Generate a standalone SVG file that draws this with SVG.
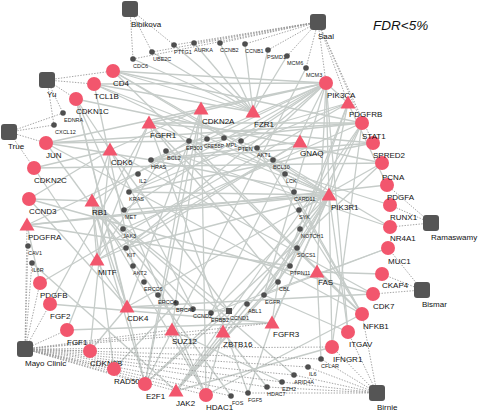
<svg xmlns="http://www.w3.org/2000/svg" xmlns:xlink="http://www.w3.org/1999/xlink" width="478" height="411" viewBox="0 0 478 411">
<style>
.e line{stroke:#c6ccc9;stroke-width:1.3;fill:none}
.d line{stroke:#9a9a9a;stroke-width:0.9;stroke-dasharray:1.4 1.4;fill:none}
.r{fill:#f2566d}
.g{fill:#4e4e4e}
.s{fill:#555555}
text{font-family:"Liberation Sans",Arial,sans-serif;fill:#111}
.lb{font-size:8px}
.ls{font-size:5.5px;fill:#222}
.t{font-size:13.5px;font-style:italic}
</style>
<defs>
<path id="tri" d="M0,-7.5 L7.5,5.5 L-7.5,5.5Z"/>
<rect id="sq" x="-8" y="-8" width="16" height="16" rx="3"/>
</defs>
<rect width="478" height="411" fill="#ffffff"/>
<g id="connectors">
<g class="e">
<line x1="113" y1="71" x2="285" y2="174"/><line x1="113" y1="71" x2="326" y2="83"/><line x1="113" y1="71" x2="329" y2="195"/><line x1="113" y1="71" x2="253" y2="112"/><line x1="113" y1="71" x2="362" y2="123"/><line x1="113" y1="71" x2="362" y2="314"/>
<line x1="94" y1="84" x2="257" y2="148"/><line x1="94" y1="84" x2="133" y2="266"/><line x1="94" y1="84" x2="326" y2="83"/><line x1="94" y1="84" x2="253" y2="112"/><line x1="94" y1="84" x2="329" y2="195"/>
<line x1="76" y1="99" x2="127" y2="307"/><line x1="76" y1="99" x2="110" y2="150"/><line x1="76" y1="99" x2="382" y2="163"/><line x1="76" y1="99" x2="145" y2="384"/>
<line x1="46" y1="143" x2="231" y2="396"/><line x1="46" y1="143" x2="362" y2="123"/><line x1="46" y1="143" x2="151" y2="160"/><line x1="46" y1="143" x2="201" y2="109"/><line x1="46" y1="143" x2="189" y2="141"/><line x1="46" y1="143" x2="362" y2="314"/>
<line x1="34" y1="168" x2="127" y2="307"/><line x1="34" y1="168" x2="110" y2="150"/><line x1="34" y1="168" x2="382" y2="163"/>
<line x1="29" y1="199" x2="127" y2="307"/><line x1="29" y1="199" x2="110" y2="150"/><line x1="29" y1="199" x2="92" y2="201"/><line x1="29" y1="199" x2="373" y2="294"/>
<line x1="27" y1="225" x2="387" y2="185"/><line x1="27" y1="225" x2="40" y2="283"/><line x1="27" y1="225" x2="329" y2="195"/><line x1="27" y1="225" x2="326" y2="83"/><line x1="27" y1="225" x2="290" y2="266"/>
<line x1="40" y1="283" x2="348" y2="103"/>
<line x1="50" y1="304" x2="149" y2="123"/><line x1="50" y1="304" x2="272" y2="323"/>
<line x1="67" y1="330" x2="149" y2="123"/><line x1="67" y1="330" x2="272" y2="323"/>
<line x1="90" y1="351" x2="127" y2="307"/><line x1="90" y1="351" x2="110" y2="150"/>
<line x1="114" y1="369" x2="176" y2="303"/><line x1="114" y1="369" x2="92" y2="201"/>
<line x1="145" y1="384" x2="92" y2="201"/><line x1="145" y1="384" x2="229" y2="311"/><line x1="145" y1="384" x2="382" y2="163"/><line x1="145" y1="384" x2="201" y2="109"/><line x1="145" y1="384" x2="189" y2="141"/>
<line x1="176" y1="391" x2="362" y2="123"/><line x1="176" y1="391" x2="332" y2="347"/><line x1="176" y1="391" x2="329" y2="195"/><line x1="176" y1="391" x2="297" y2="248"/><line x1="176" y1="391" x2="290" y2="266"/><line x1="176" y1="391" x2="278" y2="282"/>
<line x1="206" y1="395" x2="92" y2="201"/><line x1="206" y1="395" x2="362" y2="314"/><line x1="206" y1="395" x2="223" y2="332"/><line x1="206" y1="395" x2="201" y2="109"/><line x1="206" y1="395" x2="76" y2="99"/>
<line x1="348" y1="332" x2="329" y2="195"/><line x1="348" y1="332" x2="326" y2="83"/><line x1="348" y1="332" x2="264" y2="295"/>
<line x1="332" y1="347" x2="362" y2="123"/>
<line x1="362" y1="314" x2="257" y2="148"/><line x1="362" y1="314" x2="294" y2="192"/><line x1="362" y1="314" x2="273" y2="160"/><line x1="362" y1="314" x2="189" y2="141"/>
<line x1="373" y1="294" x2="127" y2="307"/><line x1="373" y1="294" x2="110" y2="150"/>
<line x1="382" y1="274" x2="317" y2="272"/>
<line x1="388" y1="248" x2="264" y2="295"/><line x1="388" y1="248" x2="211" y2="313"/>
<line x1="390" y1="227" x2="257" y2="148"/><line x1="390" y1="227" x2="166" y2="151"/>
<line x1="390" y1="205" x2="189" y2="141"/>
<line x1="387" y1="185" x2="348" y2="103"/>
<line x1="373" y1="143" x2="129" y2="192"/><line x1="373" y1="143" x2="151" y2="160"/><line x1="373" y1="143" x2="149" y2="123"/>
<line x1="362" y1="123" x2="264" y2="295"/><line x1="362" y1="123" x2="123" y2="229"/><line x1="362" y1="123" x2="189" y2="141"/><line x1="362" y1="123" x2="272" y2="323"/>
<line x1="348" y1="103" x2="329" y2="195"/><line x1="348" y1="103" x2="326" y2="83"/><line x1="348" y1="103" x2="278" y2="282"/><line x1="348" y1="103" x2="290" y2="266"/><line x1="348" y1="103" x2="151" y2="160"/><line x1="348" y1="103" x2="129" y2="192"/>
<line x1="326" y1="83" x2="257" y2="148"/><line x1="326" y1="83" x2="241" y2="141"/><line x1="326" y1="83" x2="129" y2="192"/><line x1="326" y1="83" x2="151" y2="160"/><line x1="326" y1="83" x2="329" y2="195"/><line x1="326" y1="83" x2="264" y2="295"/><line x1="326" y1="83" x2="211" y2="313"/><line x1="326" y1="83" x2="126" y2="248"/><line x1="326" y1="83" x2="124" y2="210"/><line x1="326" y1="83" x2="149" y2="123"/><line x1="326" y1="83" x2="201" y2="109"/><line x1="326" y1="83" x2="317" y2="272"/>
<line x1="329" y1="195" x2="285" y2="174"/><line x1="329" y1="195" x2="278" y2="282"/><line x1="329" y1="195" x2="264" y2="295"/><line x1="329" y1="195" x2="211" y2="313"/><line x1="329" y1="195" x2="126" y2="248"/><line x1="329" y1="195" x2="124" y2="210"/><line x1="329" y1="195" x2="149" y2="123"/><line x1="329" y1="195" x2="272" y2="323"/><line x1="329" y1="195" x2="299" y2="210"/><line x1="329" y1="195" x2="290" y2="266"/><line x1="329" y1="195" x2="257" y2="148"/><line x1="329" y1="195" x2="151" y2="160"/><line x1="329" y1="195" x2="129" y2="192"/><line x1="329" y1="195" x2="332" y2="347"/>
<line x1="149" y1="123" x2="248" y2="393"/><line x1="149" y1="123" x2="290" y2="266"/><line x1="149" y1="123" x2="278" y2="282"/><line x1="149" y1="123" x2="362" y2="123"/>
<line x1="201" y1="109" x2="127" y2="307"/><line x1="201" y1="109" x2="110" y2="150"/>
<line x1="253" y1="112" x2="133" y2="59"/><line x1="253" y1="112" x2="152" y2="52"/><line x1="253" y1="112" x2="174" y2="45"/><line x1="253" y1="112" x2="194" y2="43"/><line x1="253" y1="112" x2="220" y2="43"/><line x1="253" y1="112" x2="245" y2="44"/><line x1="253" y1="112" x2="268" y2="50"/><line x1="253" y1="112" x2="287" y2="56"/>
<line x1="306" y1="68" x2="145" y2="384"/>
<line x1="300" y1="142" x2="151" y2="160"/><line x1="300" y1="142" x2="97" y2="260"/><line x1="300" y1="142" x2="126" y2="248"/>
<line x1="110" y1="150" x2="92" y2="201"/><line x1="110" y1="150" x2="229" y2="311"/><line x1="110" y1="150" x2="193" y2="309"/>
<line x1="92" y1="201" x2="127" y2="307"/><line x1="92" y1="201" x2="229" y2="311"/><line x1="92" y1="201" x2="193" y2="309"/><line x1="92" y1="201" x2="176" y2="303"/><line x1="92" y1="201" x2="294" y2="375"/><line x1="92" y1="201" x2="97" y2="260"/><line x1="92" y1="201" x2="189" y2="141"/>
<line x1="97" y1="260" x2="126" y2="248"/><line x1="97" y1="260" x2="166" y2="151"/>
<line x1="317" y1="272" x2="321" y2="359"/><line x1="317" y1="272" x2="362" y2="314"/>
<line x1="127" y1="307" x2="229" y2="311"/><line x1="127" y1="307" x2="193" y2="309"/><line x1="127" y1="307" x2="382" y2="163"/>
<line x1="172" y1="330" x2="282" y2="382"/><line x1="172" y1="330" x2="206" y2="395"/><line x1="172" y1="330" x2="201" y2="109"/>
<line x1="223" y1="332" x2="267" y2="387"/>
<line x1="272" y1="323" x2="248" y2="393"/><line x1="272" y1="323" x2="278" y2="282"/>
<line x1="32" y1="263" x2="176" y2="391"/>
</g>
<g class="d">
<line x1="130" y1="9" x2="133" y2="59"/><line x1="130" y1="9" x2="152" y2="52"/><line x1="130" y1="9" x2="174" y2="45"/>
<line x1="318" y1="22" x2="133" y2="59"/><line x1="318" y1="22" x2="152" y2="52"/><line x1="318" y1="22" x2="174" y2="45"/><line x1="318" y1="22" x2="194" y2="43"/><line x1="318" y1="22" x2="220" y2="43"/><line x1="318" y1="22" x2="245" y2="44"/><line x1="318" y1="22" x2="268" y2="50"/><line x1="318" y1="22" x2="287" y2="56"/><line x1="318" y1="22" x2="306" y2="68"/><line x1="318" y1="22" x2="326" y2="83"/><line x1="318" y1="22" x2="348" y2="103"/><line x1="318" y1="22" x2="362" y2="123"/><line x1="318" y1="22" x2="373" y2="143"/>
<line x1="47" y1="80" x2="113" y2="71"/><line x1="47" y1="80" x2="94" y2="84"/><line x1="47" y1="80" x2="76" y2="99"/><line x1="47" y1="80" x2="63" y2="113"/><line x1="47" y1="80" x2="54" y2="125"/>
<line x1="9" y1="132" x2="46" y2="143"/><line x1="9" y1="132" x2="34" y2="168"/><line x1="9" y1="132" x2="54" y2="125"/><line x1="9" y1="132" x2="63" y2="113"/>
<line x1="431" y1="223" x2="387" y2="185"/><line x1="431" y1="223" x2="390" y2="205"/><line x1="431" y1="223" x2="390" y2="227"/>
<line x1="422" y1="290" x2="382" y2="274"/><line x1="422" y1="290" x2="373" y2="294"/><line x1="422" y1="290" x2="388" y2="248"/>
<line x1="377" y1="393" x2="332" y2="347"/><line x1="377" y1="393" x2="348" y2="332"/><line x1="377" y1="393" x2="362" y2="314"/><line x1="377" y1="393" x2="321" y2="359"/><line x1="377" y1="393" x2="308" y2="367"/><line x1="377" y1="393" x2="294" y2="375"/><line x1="377" y1="393" x2="282" y2="382"/><line x1="377" y1="393" x2="267" y2="387"/><line x1="377" y1="393" x2="248" y2="393"/>
<line x1="25" y1="349" x2="27" y2="225"/><line x1="25" y1="349" x2="28" y2="246"/><line x1="25" y1="349" x2="32" y2="263"/><line x1="25" y1="349" x2="40" y2="283"/><line x1="25" y1="349" x2="50" y2="304"/><line x1="25" y1="349" x2="67" y2="330"/><line x1="25" y1="349" x2="90" y2="351"/><line x1="25" y1="349" x2="114" y2="369"/><line x1="25" y1="349" x2="145" y2="384"/><line x1="25" y1="349" x2="176" y2="391"/><line x1="25" y1="349" x2="206" y2="395"/><line x1="25" y1="349" x2="231" y2="396"/><line x1="25" y1="349" x2="248" y2="393"/><line x1="25" y1="349" x2="267" y2="387"/><line x1="25" y1="349" x2="282" y2="382"/><line x1="25" y1="349" x2="294" y2="375"/><line x1="25" y1="349" x2="308" y2="367"/><line x1="25" y1="349" x2="321" y2="359"/><line x1="25" y1="349" x2="332" y2="347"/><line x1="25" y1="349" x2="172" y2="330"/><line x1="25" y1="349" x2="223" y2="332"/><line x1="25" y1="349" x2="272" y2="323"/>
</g>
</g>
<g id="nodes">
<g id="n-Bibikova"><use href="#sq" class="s" x="130" y="9"/><text class="lb" x="131" y="27">Bibikova</text></g>
<g id="n-Saal"><use href="#sq" class="s" x="318" y="22"/><text class="lb" x="318" y="39">Saal</text></g>
<g id="n-Yu"><use href="#sq" class="s" x="47" y="80"/><text class="lb" x="47" y="97">Yu</text></g>
<g id="n-True"><use href="#sq" class="s" x="9" y="132"/><text class="lb" x="8" y="149">True</text></g>
<g id="n-Ramaswamy"><use href="#sq" class="s" x="431" y="223"/><text class="lb" x="431" y="240">Ramaswamy</text></g>
<g id="n-Bismar"><use href="#sq" class="s" x="422" y="290"/><text class="lb" x="422" y="307">Bismar</text></g>
<g id="n-Birnie"><use href="#sq" class="s" x="377" y="393"/><text class="lb" x="377" y="410">Birnie</text></g>
<g id="n-MayoClinic"><use href="#sq" class="s" x="25" y="349"/><text class="lb" x="25" y="366">Mayo Clinic</text></g>

<g id="n-CD4"><circle class="r" cx="113" cy="71" r="7"/><text class="lb" x="113" y="86">CD4</text></g>
<g id="n-TCL1B"><circle class="r" cx="94" cy="84" r="7"/><text class="lb" x="94" y="99">TCL1B</text></g>
<g id="n-CDKN1C"><circle class="r" cx="76" cy="99" r="7"/><text class="lb" x="76" y="114">CDKN1C</text></g>
<g id="n-JUN"><circle class="r" cx="46" cy="143" r="7"/><text class="lb" x="46" y="158">JUN</text></g>
<g id="n-CDKN2C"><circle class="r" cx="34" cy="168" r="7"/><text class="lb" x="34" y="183">CDKN2C</text></g>
<g id="n-CCND3"><circle class="r" cx="29" cy="199" r="7"/><text class="lb" x="29" y="214">CCND3</text></g>
<g id="n-PDGFB"><circle class="r" cx="40" cy="283" r="7"/><text class="lb" x="40" y="298">PDGFB</text></g>
<g id="n-FGF2"><circle class="r" cx="50" cy="304" r="7"/><text class="lb" x="50" y="319">FGF2</text></g>
<g id="n-FGF1"><circle class="r" cx="67" cy="330" r="7"/><text class="lb" x="67" y="345">FGF1</text></g>
<g id="n-CDKN2B"><circle class="r" cx="90" cy="351" r="7"/><text class="lb" x="90" y="366">CDKN2B</text></g>
<g id="n-RAD50"><circle class="r" cx="114" cy="369" r="7"/><text class="lb" x="114" y="384">RAD50</text></g>
<g id="n-E2F1"><circle class="r" cx="145" cy="384" r="7"/><text class="lb" x="146" y="399">E2F1</text></g>
<g id="n-HDAC1"><circle class="r" cx="206" cy="395" r="7"/><text class="lb" x="206" y="410">HDAC1</text></g>
<g id="n-IFNGR1"><circle class="r" cx="332" cy="347" r="7"/><text class="lb" x="333" y="362">IFNGR1</text></g>
<g id="n-ITGAV"><circle class="r" cx="348" cy="332" r="7"/><text class="lb" x="349" y="347">ITGAV</text></g>
<g id="n-NFKB1"><circle class="r" cx="362" cy="314" r="7"/><text class="lb" x="363" y="329">NFKB1</text></g>
<g id="n-CDK7"><circle class="r" cx="373" cy="294" r="7"/><text class="lb" x="373" y="309">CDK7</text></g>
<g id="n-CKAP4"><circle class="r" cx="382" cy="274" r="7"/><text class="lb" x="382" y="288">CKAP4</text></g>
<g id="n-MUC1"><circle class="r" cx="388" cy="248" r="7"/><text class="lb" x="388" y="264">MUC1</text></g>
<g id="n-NR4A1"><circle class="r" cx="390" cy="227" r="7"/><text class="lb" x="390" y="241">NR4A1</text></g>
<g id="n-RUNX1"><circle class="r" cx="390" cy="205" r="7"/><text class="lb" x="390" y="220">RUNX1</text></g>
<g id="n-PDGFA"><circle class="r" cx="387" cy="185" r="7"/><text class="lb" x="387" y="200">PDGFA</text></g>
<g id="n-PCNA"><circle class="r" cx="382" cy="163" r="7"/><text class="lb" x="382" y="180">PCNA</text></g>
<g id="n-SPRED2"><circle class="r" cx="373" cy="143" r="7"/><text class="lb" x="373" y="158">SPRED2</text></g>
<g id="n-STAT1"><circle class="r" cx="362" cy="123" r="7"/><text class="lb" x="362" y="139">STAT1</text></g>
<g id="n-PIK3CA"><circle class="r" cx="326" cy="83" r="7"/><text class="lb" x="327" y="98">PIK3CA</text></g>

<g id="n-PDGFRB"><use href="#tri" class="r" x="348" y="103"/><text class="lb" x="349" y="117">PDGFRB</text></g>
<g id="n-FGFR1"><use href="#tri" class="r" x="149" y="123"/><text class="lb" x="150" y="138">FGFR1</text></g>
<g id="n-CDKN2A"><use href="#tri" class="r" x="201" y="109"/><text class="lb" x="202" y="124">CDKN2A</text></g>
<g id="n-FZR1"><use href="#tri" class="r" x="253" y="112"/><text class="lb" x="254" y="127">FZR1</text></g>
<g id="n-GNAQ"><use href="#tri" class="r" x="300" y="142"/><text class="lb" x="300" y="156">GNAQ</text></g>
<g id="n-CDK6"><use href="#tri" class="r" x="110" y="150"/><text class="lb" x="111" y="165">CDK6</text></g>
<g id="n-RB1"><use href="#tri" class="r" x="92" y="201"/><text class="lb" x="92" y="215">RB1</text></g>
<g id="n-PDGFRA"><use href="#tri" class="r" x="27" y="225"/><text class="lb" x="28" y="240">PDGFRA</text></g>
<g id="n-PIK3R1"><use href="#tri" class="r" x="329" y="195"/><text class="lb" x="331" y="210">PIK3R1</text></g>
<g id="n-MITF"><use href="#tri" class="r" x="97" y="260"/><text class="lb" x="98" y="275">MITF</text></g>
<g id="n-FAS"><use href="#tri" class="r" x="317" y="272"/><text class="lb" x="318" y="285">FAS</text></g>
<g id="n-CDK4"><use href="#tri" class="r" x="127" y="307"/><text class="lb" x="127" y="321">CDK4</text></g>
<g id="n-SUZ12"><use href="#tri" class="r" x="172" y="330"/><text class="lb" x="172" y="344">SUZ12</text></g>
<g id="n-ZBTB16"><use href="#tri" class="r" x="223" y="332"/><text class="lb" x="223" y="347">ZBTB16</text></g>
<g id="n-FGFR3"><use href="#tri" class="r" x="272" y="323"/><text class="lb" x="273" y="337">FGFR3</text></g>
<g id="n-JAK2"><use href="#tri" class="r" x="176" y="391"/><text class="lb" x="176" y="406">JAK2</text></g>

<g id="n-CDC6"><circle class="g" cx="133" cy="59" r="2.8"/><text class="ls" x="133" y="67.5">CDC6</text></g>
<g id="n-UBE2C"><circle class="g" cx="152" cy="52" r="2.8"/><text class="ls" x="153" y="60.5">UBE2C</text></g>
<g id="n-PTTG1"><circle class="g" cx="174" cy="45" r="2.8"/><text class="ls" x="174" y="53.5">PTTG1</text></g>
<g id="n-AURKA"><circle class="g" cx="194" cy="43" r="2.8"/><text class="ls" x="194" y="51.5">AURKA</text></g>
<g id="n-CCNB2"><circle class="g" cx="220" cy="43" r="2.8"/><text class="ls" x="220" y="51.5">CCNB2</text></g>
<g id="n-CCNB1"><circle class="g" cx="245" cy="44" r="2.8"/><text class="ls" x="245" y="52.5">CCNB1</text></g>
<g id="n-PSMD1"><circle class="g" cx="268" cy="50" r="2.8"/><text class="ls" x="267" y="58.5">PSMD1</text></g>
<g id="n-MCM6"><circle class="g" cx="287" cy="56" r="2.8"/><text class="ls" x="287" y="64.5">MCM6</text></g>
<g id="n-MCM3"><circle class="g" cx="306" cy="68" r="2.8"/><text class="ls" x="306" y="76.5">MCM3</text></g>
<g id="n-EDNRA"><circle class="g" cx="63" cy="113" r="2.8"/><text class="ls" x="64" y="121.5">EDNRA</text></g>
<g id="n-CXCL12"><circle class="g" cx="54" cy="125" r="2.8"/><text class="ls" x="55" y="133.5">CXCL12</text></g>
<g id="n-EP300"><circle class="g" cx="189" cy="141" r="2.8"/><text class="ls" x="186" y="149.5">EP300</text></g>
<g id="n-CREBBP"><circle class="g" cx="207" cy="139" r="2.8"/><text class="ls" x="204" y="147.5" textLength="20" lengthAdjust="spacingAndGlyphs">CREBBP</text></g>
<g id="n-MPL"><circle class="g" cx="224" cy="138" r="2.8"/><text class="ls" x="226" y="146.5">MPL</text></g>
<g id="n-PTEN"><circle class="g" cx="241" cy="141" r="2.8"/><text class="ls" x="238" y="150.5">PTEN</text></g>
<g id="n-AKT1"><circle class="g" cx="257" cy="148" r="2.8"/><text class="ls" x="257" y="156.5">AKT1</text></g>
<g id="n-BCL10"><circle class="g" cx="273" cy="160" r="2.8"/><text class="ls" x="273" y="168.5">BCL10</text></g>
<g id="n-LCK"><circle class="g" cx="285" cy="174" r="2.8"/><text class="ls" x="286" y="182.5">LCK</text></g>
<g id="n-CARD11"><circle class="g" cx="294" cy="192" r="2.8"/><text class="ls" x="294" y="200.5">CARD11</text></g>
<g id="n-SYK"><circle class="g" cx="299" cy="210" r="2.8"/><text class="ls" x="299" y="218.5">SYK</text></g>
<g id="n-NOTCH1"><circle class="g" cx="300" cy="229" r="2.8"/><text class="ls" x="301" y="237.5">NOTCH1</text></g>
<g id="n-SOCS1"><circle class="g" cx="297" cy="248" r="2.8"/><text class="ls" x="297" y="256.5">SOCS1</text></g>
<g id="n-PTPN11"><circle class="g" cx="290" cy="266" r="2.8"/><text class="ls" x="290" y="274.5">PTPN11</text></g>
<g id="n-CBL"><circle class="g" cx="278" cy="282" r="2.8"/><text class="ls" x="279" y="290.5">CBL</text></g>
<g id="n-EGFR"><circle class="g" cx="264" cy="295" r="2.8"/><text class="ls" x="265" y="303.5">EGFR</text></g>
<g id="n-ABL1"><circle class="g" cx="247" cy="304" r="2.8"/><text class="ls" x="248" y="312.5">ABL1</text></g>
<g id="n-CCND1"><rect class="g" x="226" y="308" width="6" height="6"/><text class="ls" x="230" y="319.5">CCND1</text></g>
<g id="n-ERBB2"><circle class="g" cx="211" cy="313" r="2.8"/><text class="ls" x="211" y="321.5">ERBB2</text></g>
<g id="n-CCND2"><circle class="g" cx="193" cy="309" r="2.8"/><text class="ls" x="193" y="317.5">CCND2</text></g>
<g id="n-BRCA1"><circle class="g" cx="176" cy="303" r="2.8"/><text class="ls" x="176" y="311.5">BRCA1</text></g>
<g id="n-ERCC4"><circle class="g" cx="158" cy="295" r="2.8"/><text class="ls" x="158" y="303.5">ERCC4</text></g>
<g id="n-ERCC6"><circle class="g" cx="144" cy="282" r="2.8"/><text class="ls" x="144" y="290.5">ERCC6</text></g>
<g id="n-AKT2"><circle class="g" cx="133" cy="266" r="2.8"/><text class="ls" x="133" y="274.5">AKT2</text></g>
<g id="n-KIT"><circle class="g" cx="126" cy="248" r="2.8"/><text class="ls" x="127" y="256.5">KIT</text></g>
<g id="n-JAK3"><circle class="g" cx="123" cy="229" r="2.8"/><text class="ls" x="123" y="237.5">JAK3</text></g>
<g id="n-MET"><circle class="g" cx="124" cy="210" r="2.8"/><text class="ls" x="125" y="218.5">MET</text></g>
<g id="n-KRAS"><circle class="g" cx="129" cy="192" r="2.8"/><text class="ls" x="129" y="200.5">KRAS</text></g>
<g id="n-IL2"><circle class="g" cx="138" cy="174" r="2.8"/><text class="ls" x="139" y="182.5">IL2</text></g>
<g id="n-HRAS"><circle class="g" cx="151" cy="160" r="2.8"/><text class="ls" x="151" y="168.5">HRAS</text></g>
<g id="n-BCL2"><circle class="g" cx="166" cy="151" r="2.8"/><text class="ls" x="167" y="159.5">BCL2</text></g>
<g id="n-CAV1"><circle class="g" cx="28" cy="246" r="2.8"/><text class="ls" x="28" y="254.5">CAV1</text></g>
<g id="n-IL6R"><circle class="g" cx="32" cy="263" r="2.8"/><text class="ls" x="32" y="271.5">IL6R</text></g>
<g id="n-FOS"><circle class="g" cx="231" cy="396" r="2.8"/><text class="ls" x="232" y="404.5">FOS</text></g>
<g id="n-FGF5"><circle class="g" cx="248" cy="393" r="2.8"/><text class="ls" x="248" y="401.5">FGF5</text></g>
<g id="n-HDAC7"><circle class="g" cx="267" cy="387" r="2.8"/><text class="ls" x="267" y="395.5">HDAC7</text></g>
<g id="n-EZH2"><circle class="g" cx="282" cy="382" r="2.8"/><text class="ls" x="282" y="390.5">EZH2</text></g>
<g id="n-ARID4A"><circle class="g" cx="294" cy="375" r="2.8"/><text class="ls" x="294" y="383.5">ARID4A</text></g>
<g id="n-IL6"><circle class="g" cx="308" cy="367" r="2.8"/><text class="ls" x="309" y="375.5">IL6</text></g>
<g id="n-CFLAR"><circle class="g" cx="321" cy="359" r="2.8"/><text class="ls" x="321" y="367.5">CFLAR</text></g>
</g>
<text class="t" x="373" y="30">FDR&lt;5%</text>
</svg>
